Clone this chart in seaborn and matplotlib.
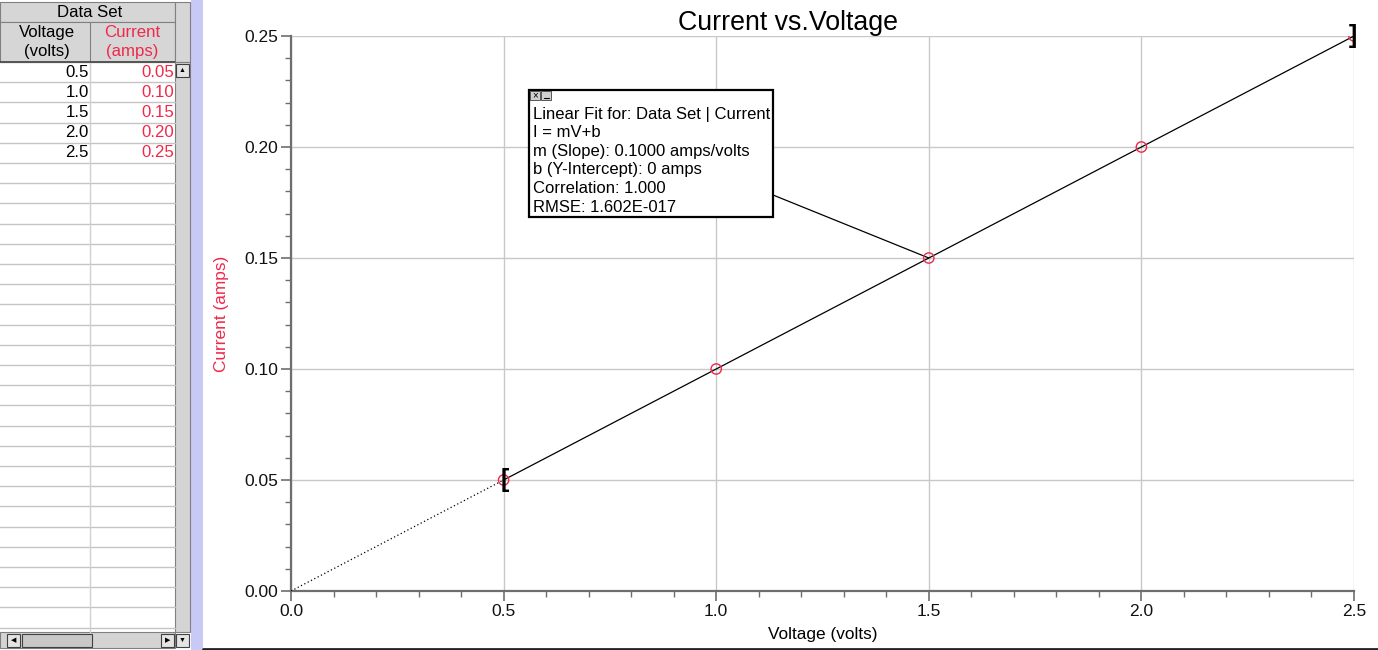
import numpy as np
import pandas as pd
import matplotlib
matplotlib.use("Agg")
import matplotlib.pyplot as plt
from matplotlib.patches import Rectangle
from matplotlib.ticker import MultipleLocator
import seaborn as sns

# data from the Data Set table
voltage = [0.5, 1.0, 1.5, 2.0, 2.5]
current = [0.05, 0.10, 0.15, 0.20, 0.25]
x_ticks = [0.0, 0.5, 1.0, 1.5, 2.0, 2.5]
y_ticks = [0.00, 0.05, 0.10, 0.15, 0.20, 0.25]

RED = "#f0284a"
GRID = "#c8c8c8"
AXC = "#6e6e6e"

sns.set_style("white")
plt.rcParams["font.family"] = ["Liberation Sans", "DejaVu Sans"]
plt.rcParams["text.color"] = "black"
plt.rcParams["axes.labelcolor"] = "black"

df = pd.DataFrame({"Voltage": voltage, "Current": current})
m, b = np.polyfit(df["Voltage"], df["Current"], 1)

fig = plt.figure(figsize=(13.78, 6.5), dpi=100)
ax = fig.add_axes([291 / 1378, 59 / 650, 1063 / 1378, 555 / 650])

# fit line: solid over the selected range, dotted back to origin
fit_x = np.array([voltage[0], voltage[-1]])
sns.lineplot(x=fit_x, y=m * fit_x + b, ax=ax, color="black", lw=0.9, zorder=3)
ext_x = np.array([0.0, voltage[0]])
ax.plot(ext_x, m * ext_x + b, color="black", lw=0.9, ls=(0, (1, 2)), zorder=3)

sns.scatterplot(data=df, x="Voltage", y="Current", ax=ax, marker="o", s=55,
                facecolor="none", edgecolor=RED, linewidth=1.0, zorder=4)

# range brackets
ax.annotate("[", (voltage[0], current[0]), xytext=(1, 0), textcoords="offset points",
            ha="center", va="center", fontsize=18, fontweight="bold", zorder=5)
ax.annotate("]", (voltage[-1], current[-1]), xytext=(-1, 0), textcoords="offset points",
            ha="center", va="center", fontsize=18, fontweight="bold", zorder=5,
            annotation_clip=False)

ax.set_xlim(x_ticks[0], x_ticks[-1])
ax.set_ylim(y_ticks[0], y_ticks[-1])
ax.set_xticks(x_ticks)
ax.set_yticks(y_ticks)
ax.set_xticklabels([f"{v:.1f}" for v in x_ticks])
ax.set_yticklabels([f"{v:.2f}" for v in y_ticks])
ax.xaxis.set_minor_locator(MultipleLocator(0.1))
ax.yaxis.set_minor_locator(MultipleLocator(0.01))
ax.tick_params(which="major", direction="out", length=7, width=1.2, color=AXC,
               labelsize=12.5, labelcolor="#111111", pad=2)
ax.tick_params(which="minor", direction="out", length=4, width=1.0, color=AXC)
ax.tick_params(axis="x", which="both", bottom=True)
ax.tick_params(axis="y", which="both", left=True)
ax.grid(True, which="major", color=GRID, lw=1.0)
ax.set_axisbelow(True)
for s in ["top", "right"]:
    ax.spines[s].set_visible(False)
for s in ["left", "bottom"]:
    ax.spines[s].set_color(AXC)
    ax.spines[s].set_linewidth(1.6)

ax.set_title("Current vs.Voltage", fontsize=19.3, pad=4, x=0.4675, color="black")
ax.set_xlabel("Voltage (volts)", fontsize=12.4, labelpad=6)
ax.set_ylabel("Current (amps)", fontsize=12.4, color=RED)
ax.yaxis.set_label_coords(-0.0583, 0.5)

# overlay in pixel coordinates for the table and the fit box
ov = fig.add_axes([0, 0, 1, 1], zorder=5)
ov.set_xlim(0, 1378)
ov.set_ylim(650, 0)
ov.axis("off")
ov.patch.set_alpha(0)

# lavender splitter and bottom border
ov.add_patch(Rectangle((191, 0), 12, 650, facecolor="#c9c9f5", edgecolor="none"))
ov.plot([203, 1378], [648.5, 648.5], color="#222222", lw=2)

# table header
HDR = "#d6d6d6"
ov.add_patch(Rectangle((0, 2), 175, 20, facecolor=HDR, edgecolor="#808080", lw=0.8))
ov.add_patch(Rectangle((0, 22), 175, 40, facecolor=HDR, edgecolor="#808080", lw=0.8))
ov.add_patch(Rectangle((175, 2), 15, 60, facecolor=HDR, edgecolor="#808080", lw=0.8))
ov.plot([90, 90], [22, 62], color="#808080", lw=0.8)
ov.text(90, 12.5, "Data Set", ha="center", va="center", fontsize=12.1)
ov.text(47, 42, "Voltage\n(volts)", ha="center", va="center", fontsize=12.1, linespacing=1.3)
ov.text(132, 42, "Current\n(amps)", ha="center", va="center", fontsize=12.1,
        linespacing=1.3, color=RED)

# table rows
row_h = 20.2
n_rows = 28
for i in range(n_rows + 1):
    y = 62 + i * row_h
    ov.plot([0, 175], [y, y], color="#c4c4c4", lw=1.0)
ov.plot([90, 90], [62, 632], color="#d0d0d0", lw=1.0)
ov.plot([0, 175], [62, 62], color="#404040", lw=1.2)
for i, (v, c) in enumerate(zip(voltage, current)):
    yc = 62 + (i + 0.5) * row_h
    ov.text(89, yc, f"{v:.1f}", ha="right", va="center", fontsize=12.1)
    ov.text(174, yc, f"{c:.2f}", ha="right", va="center", fontsize=12.1, color=RED)

# vertical scrollbar
ov.add_patch(Rectangle((175, 62), 15, 570, facecolor="#d4d4d4", edgecolor="#808080", lw=0.8))
ov.add_patch(Rectangle((176, 64), 13, 13, facecolor="#e4e4e4", edgecolor="#404040", lw=0.8))
ov.text(182.5, 70.5, "▲", ha="center", va="center", fontsize=5)
ov.add_patch(Rectangle((176, 634), 13, 13, facecolor="#e4e4e4", edgecolor="#404040", lw=0.8))
ov.text(182.5, 640.5, "▼", ha="center", va="center", fontsize=5)
# horizontal scrollbar
ov.add_patch(Rectangle((0, 632), 175, 16, facecolor="#d4d4d4", edgecolor="#808080", lw=0.8))
ov.add_patch(Rectangle((7, 634), 13, 13, facecolor="#e4e4e4", edgecolor="#404040", lw=0.8))
ov.text(13.5, 640.5, "◀", ha="center", va="center", fontsize=5)
ov.add_patch(Rectangle((22, 634), 70, 13, facecolor="#c8c8c8", edgecolor="#404040", lw=0.8))
ov.add_patch(Rectangle((161, 634), 13, 13, facecolor="#e4e4e4", edgecolor="#404040", lw=0.8))
ov.text(167.5, 640.5, "▶", ha="center", va="center", fontsize=5)

# linear fit box
ax.annotate("", xy=(voltage[2], current[2]), xytext=(773, 195), textcoords=ov.transData,
            arrowprops=dict(arrowstyle="-", color="black", lw=0.9, shrinkA=0, shrinkB=0))
ov.add_patch(Rectangle((529, 90), 244, 127, facecolor="white", edgecolor="black", lw=1.6))
ov.add_patch(Rectangle((530, 91), 10, 9, facecolor="#d0d0d0", edgecolor="#404040", lw=0.6))
ov.text(535, 95.5, "×", ha="center", va="center", fontsize=7)
ov.add_patch(Rectangle((541, 91), 10, 9, facecolor="#d0d0d0", edgecolor="#404040", lw=0.6))
ov.plot([543.5, 548.5], [98, 98], color="black", lw=0.8)
fit_lines = [
    "Linear Fit for: Data Set | Current",
    "I = mV+b",
    f"m (Slope): {m:.4f} amps/volts",
    "b (Y-Intercept): 0 amps",
    "Correlation: 1.000",
    "RMSE: 1.602E-017",
]
for i, t in enumerate(fit_lines):
    ov.text(533, 114 + i * 18.6, t, ha="left", va="center", fontsize=12)

fig.savefig("out.png", dpi=100)
